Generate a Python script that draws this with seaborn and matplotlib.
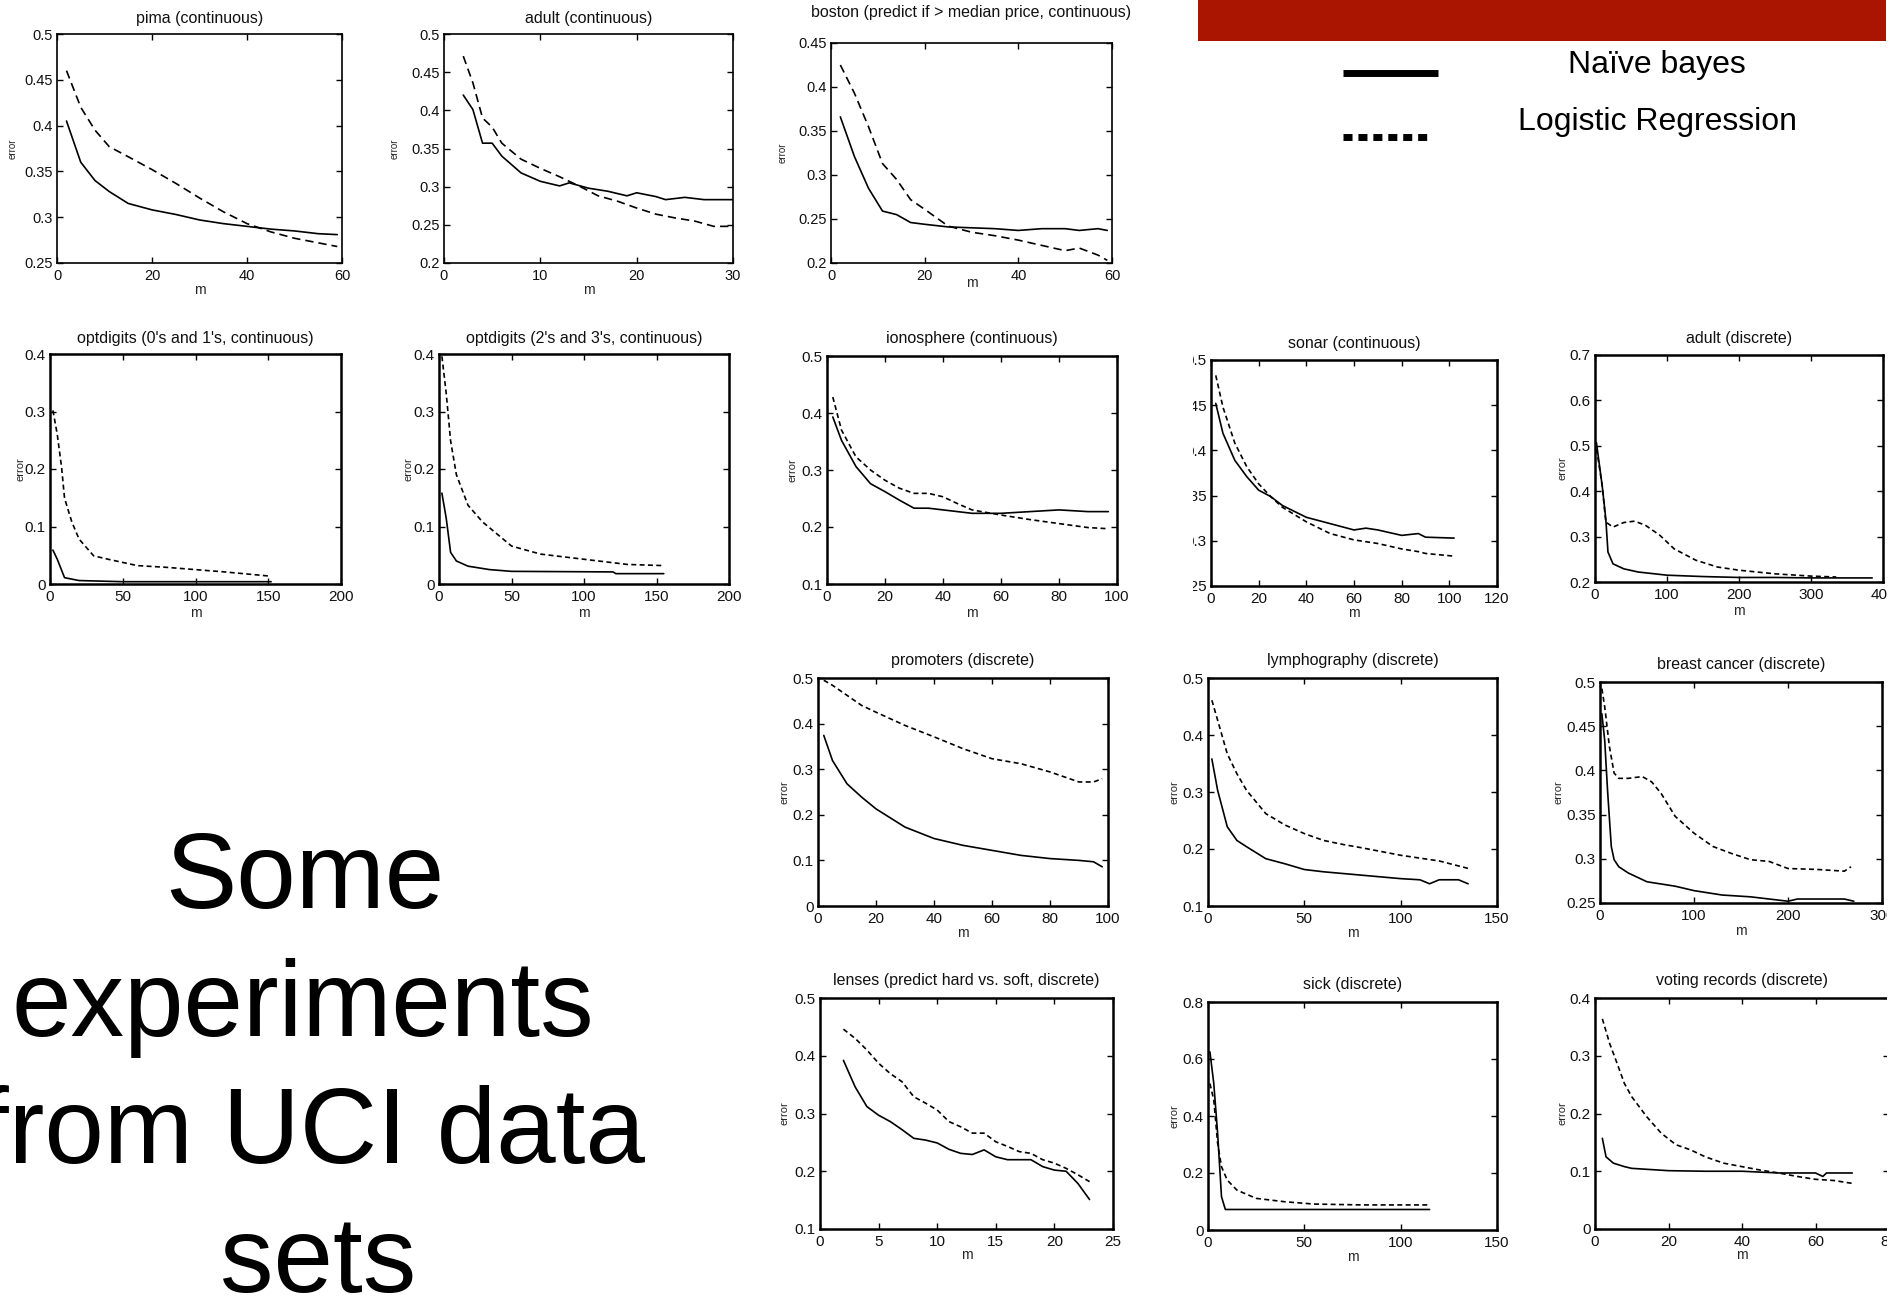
import numpy as np
import pandas as pd
import matplotlib
matplotlib.use("Agg")
import matplotlib.pyplot as plt
import seaborn as sns
from matplotlib.patches import Rectangle
from matplotlib.lines import Line2D
from matplotlib.ticker import FuncFormatter

# ---------------- data ----------------
pima_m = [2, 5, 8, 11, 15, 20, 25, 30, 35, 40, 45, 50, 55, 59]
pima_nb = [0.405, 0.36, 0.34, 0.328, 0.315, 0.308, 0.303, 0.297, 0.293, 0.290, 0.287, 0.285, 0.282, 0.281]
pima_lr = [0.46, 0.42, 0.395, 0.377, 0.366, 0.352, 0.337, 0.321, 0.306, 0.293, 0.284, 0.277, 0.272, 0.268]

adultc_nb_m = [2, 3, 4, 5, 6, 8, 10, 12, 13, 15, 17, 19, 20, 22, 23, 25, 27, 30]
adultc_nb = [0.42, 0.401, 0.357, 0.357, 0.34, 0.318, 0.307, 0.301, 0.305, 0.298, 0.294, 0.288, 0.292, 0.287, 0.283, 0.286, 0.283, 0.283]
adultc_lr_m = [2, 3, 4, 5, 6, 8, 10, 12, 14, 16, 18, 20, 22, 24, 26, 28, 30]
adultc_lr = [0.471, 0.436, 0.39, 0.378, 0.357, 0.336, 0.324, 0.313, 0.301, 0.288, 0.281, 0.272, 0.264, 0.259, 0.255, 0.248, 0.248]

boston_m = [2, 5, 8, 11, 14, 17, 20, 25, 30, 35, 40, 45, 50, 53, 57, 59]
boston_nb = [0.366, 0.321, 0.285, 0.259, 0.255, 0.246, 0.244, 0.241, 0.240, 0.239, 0.237, 0.239, 0.239, 0.237, 0.239, 0.237]
boston_lr = [0.425, 0.393, 0.355, 0.313, 0.295, 0.272, 0.261, 0.242, 0.235, 0.231, 0.226, 0.220, 0.214, 0.217, 0.209, 0.203]

opt01_nb_m = [2, 5, 10, 20, 50, 152]
opt01_nb = [0.059, 0.043, 0.011, 0.006, 0.004, 0.004]
opt01_lr_m = [2, 5, 8, 10, 15, 20, 30, 40, 60, 80, 100, 120, 150]
opt01_lr = [0.302, 0.26, 0.202, 0.149, 0.108, 0.078, 0.049, 0.043, 0.032, 0.029, 0.025, 0.021, 0.014]

opt23_nb_m = [2, 5, 8, 12, 20, 35, 50, 120, 122, 155]
opt23_nb = [0.158, 0.114, 0.055, 0.04, 0.031, 0.025, 0.022, 0.021, 0.018, 0.018]
opt23_lr_m = [2, 5, 8, 12, 20, 30, 40, 50, 70, 90, 110, 130, 155]
opt23_lr = [0.396, 0.331, 0.249, 0.19, 0.137, 0.108, 0.087, 0.066, 0.052, 0.046, 0.04, 0.034, 0.032]

iono_m = [2, 5, 10, 15, 20, 25, 30, 35, 40, 45, 50, 60, 70, 80, 90, 97]
iono_nb = [0.393, 0.352, 0.306, 0.276, 0.262, 0.247, 0.233, 0.233, 0.23, 0.227, 0.224, 0.224, 0.227, 0.23, 0.227, 0.227]
iono_lr = [0.428, 0.37, 0.323, 0.30, 0.282, 0.268, 0.259, 0.259, 0.253, 0.241, 0.23, 0.221, 0.213, 0.206, 0.199, 0.197]

sonar_m = [2, 5, 10, 15, 20, 25, 30, 40, 50, 60, 65, 70, 80, 87, 90, 102]
sonar_nb = [0.452, 0.419, 0.389, 0.371, 0.356, 0.349, 0.339, 0.326, 0.319, 0.312, 0.314, 0.312, 0.306, 0.308, 0.304, 0.303]
sonar_lr = [0.483, 0.448, 0.408, 0.382, 0.363, 0.349, 0.337, 0.321, 0.308, 0.301, 0.299, 0.297, 0.291, 0.288, 0.286, 0.283]

adultd_nb_m = [2, 5, 10, 15, 18, 25, 40, 60, 100, 150, 200, 250, 300, 385]
adultd_nb = [0.507, 0.471, 0.412, 0.339, 0.266, 0.24, 0.229, 0.222, 0.215, 0.212, 0.21, 0.21, 0.209, 0.209]
adultd_lr_m = [2, 5, 10, 15, 25, 40, 55, 70, 90, 110, 140, 170, 200, 250, 300, 335]
adultd_lr = [0.493, 0.464, 0.412, 0.332, 0.321, 0.331, 0.334, 0.325, 0.303, 0.273, 0.248, 0.233, 0.226, 0.218, 0.213, 0.211]

prom_m = [2, 5, 10, 15, 20, 30, 40, 50, 60, 70, 80, 90, 95, 98]
prom_nb = [0.374, 0.319, 0.268, 0.239, 0.213, 0.173, 0.148, 0.133, 0.122, 0.111, 0.104, 0.10, 0.097, 0.086]
prom_lr = [0.495, 0.484, 0.462, 0.44, 0.425, 0.396, 0.371, 0.345, 0.323, 0.312, 0.294, 0.272, 0.272, 0.279]

lymph_nb_m = [2, 5, 10, 15, 20, 30, 40, 50, 60, 80, 100, 110, 115, 120, 130, 135]
lymph_nb = [0.358, 0.303, 0.239, 0.215, 0.204, 0.183, 0.174, 0.164, 0.16, 0.154, 0.148, 0.146, 0.139, 0.146, 0.146, 0.139]
lymph_lr_m = [2, 5, 10, 15, 20, 30, 40, 50, 60, 70, 80, 100, 120, 135]
lymph_lr = [0.461, 0.426, 0.367, 0.332, 0.303, 0.262, 0.242, 0.227, 0.215, 0.208, 0.202, 0.189, 0.179, 0.166]

breast_nb_m = [2, 5, 8, 12, 15, 20, 30, 50, 80, 100, 130, 160, 200, 210, 260, 270]
breast_nb = [0.464, 0.434, 0.378, 0.314, 0.299, 0.291, 0.284, 0.274, 0.269, 0.264, 0.259, 0.257, 0.252, 0.2545, 0.2545, 0.252]
breast_lr_m = [2, 5, 10, 15, 20, 30, 45, 55, 65, 80, 100, 120, 140, 160, 180, 200, 230, 260, 267]
breast_lr = [0.4925, 0.472, 0.427, 0.397, 0.391, 0.391, 0.393, 0.387, 0.374, 0.348, 0.329, 0.314, 0.306, 0.299, 0.297, 0.289, 0.288, 0.286, 0.291]

lenses_m = [2, 3, 4, 5, 6, 7, 8, 9, 10, 11, 12, 13, 14, 15, 16, 17, 18, 19, 20, 21, 22, 23]
lenses_nb = [0.392, 0.346, 0.312, 0.297, 0.286, 0.272, 0.257, 0.254, 0.249, 0.238, 0.231, 0.229, 0.237, 0.225, 0.22, 0.22, 0.22, 0.208, 0.202, 0.2, 0.179, 0.151]
lenses_lr = [0.446, 0.43, 0.41, 0.387, 0.369, 0.355, 0.329, 0.318, 0.306, 0.286, 0.277, 0.266, 0.266, 0.251, 0.243, 0.234, 0.231, 0.22, 0.214, 0.205, 0.194, 0.182]

sick_nb_m = [1, 3, 5, 7, 9, 20, 115]
sick_nb = [0.625, 0.514, 0.339, 0.117, 0.072, 0.072, 0.072]
sick_lr_m = [1, 3, 5, 7, 10, 15, 25, 40, 55, 80, 115]
sick_lr = [0.514, 0.456, 0.304, 0.222, 0.175, 0.14, 0.111, 0.099, 0.091, 0.088, 0.088]

voting_nb_m = [2, 3, 5, 8, 10, 20, 30, 40, 50, 60, 62, 63, 70]
voting_nb = [0.157, 0.125, 0.114, 0.108, 0.105, 0.101, 0.10, 0.10, 0.097, 0.097, 0.091, 0.097, 0.097]
voting_lr_m = [2, 4, 6, 8, 10, 14, 18, 22, 26, 30, 35, 40, 45, 50, 55, 60, 65, 70]
voting_lr = [0.364, 0.321, 0.287, 0.252, 0.229, 0.195, 0.166, 0.146, 0.137, 0.125, 0.114, 0.108, 0.102, 0.097, 0.091, 0.086, 0.084, 0.079]

titles = ["pima (continuous)", "adult (continuous)", "boston (predict if > median price, continuous)",
          "optdigits (0's and 1's, continuous)", "optdigits (2's and 3's, continuous)",
          "ionosphere (continuous)", "sonar (continuous)", "adult (discrete)",
          "promoters (discrete)", "lymphography (discrete)", "breast cancer (discrete)",
          "lenses (predict hard vs. soft, discrete)", "sick (discrete)", "voting records (discrete)"]

legend_labels = ["Naïve bayes", "Logistic Regression"]
side_text = ["Some", "experiments", "from UCI data", "sets"]

# ---------------- style ----------------
sns.set_style("ticks")
plt.rcParams['font.family'] = ['Liberation Sans', 'DejaVu Sans']

W, H = 1898, 1299
fig = plt.figure(figsize=(W / 100, H / 100), dpi=100)
fig.patch.set_facecolor("white")


def fx(px):
    return px / W


def fy(py):
    return 1 - py / H


def make_df(nb_m, nb_e, lr_m, lr_e):
    return pd.concat([
        pd.DataFrame({"m": nb_m, "error": nb_e, "model": "NB"}),
        pd.DataFrame({"m": lr_m, "error": lr_e, "model": "LR"}),
    ], ignore_index=True)


# layout: (left, right, top, bottom) in px, title centre y, ylabel offset, xlabel gap, row
panels = [
    dict(d=(pima_m, pima_nb, pima_m, pima_lr), box=(57, 342, 34, 263), ty=18, yl=44, xl=27, row=1,
         xlim=(0, 60), xt=[0, 20, 40, 60], ylim=(0.25, 0.5), yt=[0.25, 0.3, 0.35, 0.4, 0.45, 0.5]),
    dict(d=(adultc_nb_m, adultc_nb, adultc_lr_m, adultc_lr), box=(444, 733, 34, 263), ty=18, yl=49, xl=27, row=1,
         xlim=(0, 30), xt=[0, 10, 20, 30], ylim=(0.2, 0.5), yt=[0.2, 0.25, 0.3, 0.35, 0.4, 0.45, 0.5]),
    dict(d=(boston_m, boston_nb, boston_m, boston_lr), box=(831, 1112, 43, 263), ty=13, yl=48, xl=20, row=1,
         xlim=(0, 60), xt=[0, 20, 40, 60], ylim=(0.2, 0.45), yt=[0.2, 0.25, 0.3, 0.35, 0.4, 0.45]),
    dict(d=(opt01_nb_m, opt01_nb, opt01_lr_m, opt01_lr), box=(50, 341, 354, 584), ty=338, yl=30, xl=29, row=2,
         xlim=(0, 200), xt=[0, 50, 100, 150, 200], ylim=(0, 0.4), yt=[0, 0.1, 0.2, 0.3, 0.4]),
    dict(d=(opt23_nb_m, opt23_nb, opt23_lr_m, opt23_lr), box=(439, 729, 354, 584), ty=338, yl=31, xl=29, row=2,
         xlim=(0, 200), xt=[0, 50, 100, 150, 200], ylim=(0, 0.4), yt=[0, 0.1, 0.2, 0.3, 0.4]),
    dict(d=(iono_m, iono_nb, iono_m, iono_lr), box=(827, 1117, 356, 584), ty=338, yl=34, xl=29, row=2,
         xlim=(0, 100), xt=[0, 20, 40, 60, 80, 100], ylim=(0.1, 0.5), yt=[0.1, 0.2, 0.3, 0.4, 0.5]),
    dict(d=(sonar_m, sonar_nb, sonar_m, sonar_lr), box=(1211, 1497, 360, 586), ty=344, yl=34, xl=27, row=2,
         xlim=(0, 120), xt=[0, 20, 40, 60, 80, 100, 120], ylim=(0.25, 0.5), yt=[0.25, 0.3, 0.35, 0.4, 0.45, 0.5]),
    dict(d=(adultd_nb_m, adultd_nb, adultd_lr_m, adultd_lr), box=(1595, 1883, 355, 582), ty=338, yl=33, xl=29, row=2,
         xlim=(0, 400), xt=[0, 100, 200, 300, 400], ylim=(0.2, 0.7), yt=[0.2, 0.3, 0.4, 0.5, 0.6, 0.7]),
    dict(d=(prom_m, prom_nb, prom_m, prom_lr), box=(818, 1108, 678, 906), ty=660, yl=33, xl=27, row=3,
         xlim=(0, 100), xt=[0, 20, 40, 60, 80, 100], ylim=(0, 0.5), yt=[0, 0.1, 0.2, 0.3, 0.4, 0.5]),
    dict(d=(lymph_nb_m, lymph_nb, lymph_lr_m, lymph_lr), box=(1208, 1497, 678, 906), ty=660, yl=34, xl=27, row=3,
         xlim=(0, 150), xt=[0, 50, 100, 150], ylim=(0.1, 0.5), yt=[0.1, 0.2, 0.3, 0.4, 0.5]),
    dict(d=(breast_nb_m, breast_nb, breast_lr_m, breast_lr), box=(1600, 1882, 682, 903), ty=664, yl=42, xl=28, row=3,
         xlim=(0, 300), xt=[0, 100, 200, 300], ylim=(0.25, 0.5), yt=[0.25, 0.3, 0.35, 0.4, 0.45, 0.5]),
    dict(d=(lenses_m, lenses_nb, lenses_m, lenses_lr), box=(820, 1113, 998, 1229), ty=981, yl=35, xl=26, row=4,
         xlim=(0, 25), xt=[0, 5, 10, 15, 20, 25], ylim=(0.1, 0.5), yt=[0.1, 0.2, 0.3, 0.4, 0.5]),
    dict(d=(sick_nb_m, sick_nb, sick_lr_m, sick_lr), box=(1208, 1497, 1002, 1230), ty=984, yl=34, xl=27, row=4,
         xlim=(0, 150), xt=[0, 50, 100, 150], ylim=(0, 0.8), yt=[0, 0.2, 0.4, 0.6, 0.8]),
    dict(d=(voting_nb_m, voting_nb, voting_lr_m, voting_lr), box=(1595, 1889, 998, 1229), ty=980, yl=33, xl=26, row=4,
         xlim=(0, 80), xt=[0, 20, 40, 60, 80], ylim=(0, 0.4), yt=[0, 0.1, 0.2, 0.3, 0.4]),
]

fmt = FuncFormatter(lambda v, p: f"{round(v, 4):g}")

for title, p in zip(titles, panels):
    l, r, t, b = p["box"]
    wpx, hpx = r - l, b - t
    ax = fig.add_axes([fx(l), fy(b), wpx / W, hpx / H])
    first = p["row"] == 1
    df = make_df(*p["d"])
    sns.lineplot(data=df, x="m", y="error", style="model", style_order=["NB", "LR"],
                 dashes={"NB": "", "LR": (5, 3) if first else (3, 2)},
                 color="black", lw=1.2, legend=False, estimator=None, ax=ax)
    ax.set_xlim(*p["xlim"])
    ax.set_ylim(*p["ylim"])
    ax.set_xticks(p["xt"])
    ax.set_yticks(p["yt"])
    ax.xaxis.set_major_formatter(fmt)
    ax.yaxis.set_major_formatter(fmt)
    lab = 10.5 if first else 11
    ax.tick_params(which="both", direction="in", top=True, right=True, length=4, width=1,
                   color="black", labelsize=lab, labelcolor="#111111")
    ax.tick_params(axis="x", pad=4)
    ax.tick_params(axis="y", pad=3)
    for s in ax.spines.values():
        s.set_linewidth(1.2 if first else 1.8)
        s.set_color("black")
    ax.set_xlabel("m", fontsize=10, va="center")
    ax.xaxis.set_label_coords(0.5, -p["xl"] / hpx)
    ax.set_ylabel("error", fontsize=7 if first else 8, va="center")
    ax.yaxis.set_label_coords(-p["yl"] / wpx, 0.5)
    ax.text(0.5, 1 + (t - p["ty"]) / hpx, title, transform=ax.transAxes,
            ha="center", va="center", fontsize=11.5, color="#111111")

# crop of the sonar panel's left side (as in the slide)
fig.add_artist(Rectangle((fx(1132), fy(600)), (1193 - 1132) / W, (600 - 340) / H,
                         transform=fig.transFigure, facecolor="white", edgecolor="none", zorder=20))
# right-hand crop of the slide
fig.add_artist(Rectangle((fx(1887), 0), (W - 1887) / W, 1,
                         transform=fig.transFigure, facecolor="white", edgecolor="none", zorder=20))

# red title bar
fig.add_artist(Rectangle((fx(1198), fy(41)), (1886 - 1198) / W, 41 / H,
                         transform=fig.transFigure, facecolor="#A91500", edgecolor="none", zorder=25))

# legend
fig.add_artist(Line2D([fx(1343), fx(1438)], [fy(73), fy(73)], transform=fig.transFigure,
                      color="black", lw=5, solid_capstyle="butt", zorder=25))
fig.add_artist(Line2D([fx(1343), fx(1431)], [fy(137), fy(137)], transform=fig.transFigure,
                      color="black", lw=5, linestyle=(0, (1.3, 0.85)), dash_capstyle="butt", zorder=25))
fig.text(fx(1657), fy(65), legend_labels[0], ha="center", va="center", fontsize=23, color="black", zorder=25)
fig.text(fx(1657), fy(122), legend_labels[1], ha="center", va="center", fontsize=23, color="black", zorder=25)

# big slide text (the slide crops its left edge)
side_pos = [(305, 908, "center"), (303, 1036, "center"), (645, 1163, "right"), (318, 1292, "center")]
for txt, (x, y, ha) in zip(side_text, side_pos):
    fig.text(fx(x), fy(y), txt, ha=ha, va="baseline", fontsize=77, color="black")

fig.savefig("out.png", dpi=100, facecolor="white")
